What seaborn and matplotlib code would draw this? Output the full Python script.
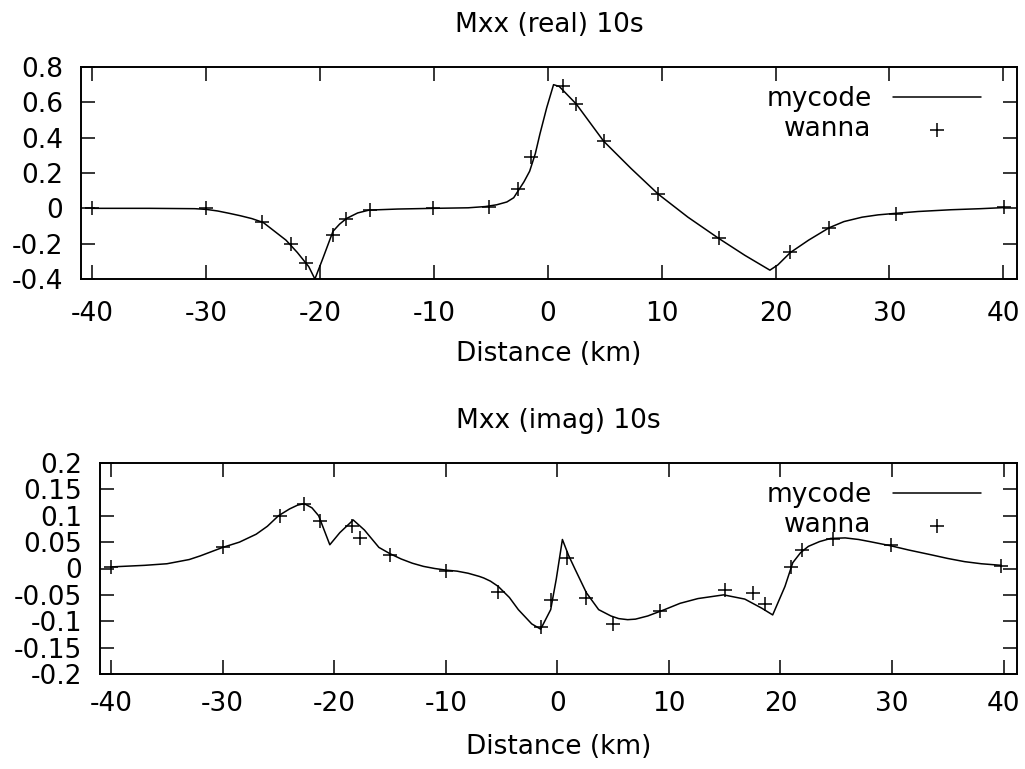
import matplotlib
matplotlib.use("Agg")
import matplotlib.pyplot as plt
import matplotlib.ticker as mticker
import seaborn as sns

# mycode curve, real part
real_x = [-40, -35, -31, -30, -29, -28, -27, -26, -25, -24, -23, -22, -21, -20.46,
          -19.74, -18.87, -18.3, -17.7, -16.7, -15.7, -13.2, -10, -7, -5.5, -4.5,
          -3.6, -3.0, -2.6, -2.1, -1.6, -1.1, -0.7, -0.1, 0.5, 1.0, 2.5, 4.9, 7.3,
          9.7, 12.3, 15, 17.3, 19.5, 20.2, 21.3, 22.9, 24.7, 26, 27.6, 29, 30.6,
          32.5, 35.4, 38, 40]
real_y = [0.0, 0.0, -0.002, -0.006, -0.015, -0.028, -0.042, -0.058, -0.08, -0.13,
          -0.18, -0.25, -0.33, -0.40, -0.28, -0.13, -0.09, -0.058, -0.026, -0.01,
          -0.004, 0.0, 0.003, 0.01, 0.02, 0.036, 0.06, 0.10, 0.15, 0.21, 0.31,
          0.42, 0.57, 0.70, 0.69, 0.59, 0.38, 0.226, 0.08, -0.05, -0.17, -0.266,
          -0.35, -0.32, -0.25, -0.18, -0.11, -0.075, -0.05, -0.037, -0.028, -0.018,
          -0.008, -0.002, 0.004]

# wanna points, real part
real_pts_x = [-40, -30, -25.1, -22.6, -21.2, -18.9, -17.7, -15.6, -10.1, -5.2, -2.6,
              -1.5, 1.3, 2.5, 4.9, 9.7, 15.0, 21.3, 24.7, 30.6, 40.1]
real_pts_y = [0.0, 0.0, -0.08, -0.20, -0.31, -0.15, -0.06, -0.01, 0.0, 0.01, 0.11,
              0.29, 0.69, 0.59, 0.38, 0.08, -0.17, -0.25, -0.11, -0.03, 0.005]

# mycode curve, imaginary part
imag_x = [-40, -37, -35, -33, -32, -31, -30, -28.5, -27, -26, -25, -24, -23.3, -22.7,
          -22, -21.4, -20.4, -19.5, -18.3, -17.3, -16, -15, -14, -13, -12, -11, -10,
          -9, -8, -7, -6.6, -6, -5.3, -4.3, -3.5, -2.3, -1.5, -0.6, -0.1, 0.45, 1.0,
          1.6, 2.6, 3.7, 4.8, 5.5, 6.3, 7, 8.1, 9.6, 11, 12.6, 14.9, 16.8, 18.3,
          19.3, 20.4, 21.1, 21.8, 22.5, 23.5, 24.5, 25.8, 27, 28, 29.9, 31.5, 33.5,
          35, 36.5, 38, 39.8]
imag_y = [0.003, 0.006, 0.009, 0.017, 0.024, 0.032, 0.04, 0.05, 0.065, 0.08, 0.10,
          0.113, 0.12, 0.123, 0.115, 0.10, 0.045, 0.068, 0.092, 0.073, 0.04, 0.028,
          0.018, 0.01, 0.004, 0.0, -0.003, -0.005, -0.009, -0.015, -0.018, -0.024,
          -0.034, -0.055, -0.078, -0.105, -0.115, -0.078, -0.02, 0.055, 0.025,
          -0.002, -0.046, -0.078, -0.09, -0.095, -0.097, -0.096, -0.09, -0.078,
          -0.066, -0.057, -0.05, -0.058, -0.075, -0.088, -0.034, 0.011, 0.03, 0.042,
          0.051, 0.057, 0.058, 0.055, 0.051, 0.043, 0.035, 0.026, 0.019, 0.013,
          0.009, 0.006]

# wanna points, imaginary part
imag_pts_x = [-40, -30, -24.9, -22.7, -21.3, -18.4, -17.7, -15.0, -10, -5.3, -1.5,
              -0.6, 0.9, 2.6, 5.0, 9.2, 15.0, 17.5, 18.6, 20.9, 21.9, 24.7, 29.9, 39.8]
imag_pts_y = [0.002, 0.04, 0.10, 0.123, 0.09, 0.08, 0.057, 0.025, -0.005, -0.045,
              -0.11, -0.06, 0.02, -0.055, -0.105, -0.08, -0.04, -0.047, -0.067,
              0.002, 0.036, 0.055, 0.044, 0.004]

x_ticks = [-40, -30, -20, -10, 0, 10, 20, 30, 40]

sns.set_style("ticks")
plt.rcParams['font.family'] = ['DejaVu Sans']
plt.rcParams['axes.unicode_minus'] = False
for key in ['text.color', 'axes.labelcolor', 'xtick.color', 'ytick.color',
            'axes.edgecolor']:
    plt.rcParams[key] = 'black'
FS = 19

fig = plt.figure(figsize=(10.25, 7.69), dpi=100)
W, H = 1025, 769
ax1 = fig.add_axes([81 / W, 1 - 279 / H, 936 / W, 212 / H])
ax2 = fig.add_axes([100 / W, 1 - 674 / H, 917 / W, 211 / H])

panels = [
    (ax1, real_x, real_y, real_pts_x, real_pts_y, "Mxx (real) 10s",
     (-0.4, 0.8), [-0.4, -0.2, 0, 0.2, 0.4, 0.6, 0.8], 16, 10, 86),
    (ax2, imag_x, imag_y, imag_pts_x, imag_pts_y, "Mxx (imag) 10s",
     (-0.2, 0.2), [-0.2, -0.15, -0.1, -0.05, 0, 0.05, 0.1, 0.15, 0.2], 12.5, 12, 482),
]

for ax, cx, cy, px, py, title, ylim, yticks, xpad, lpad, leg_top in panels:
    sns.lineplot(x=cx, y=cy, ax=ax, color='black', lw=1.1, sort=False,
                 estimator=None, label='mycode')
    sns.scatterplot(x=px, y=py, ax=ax, marker='+', s=95, color='black',
                    linewidth=1.1, label='wanna')
    ax.set_xlim(-41, 41.2)
    ax.set_ylim(*ylim)
    ax.set_xticks(x_ticks)
    ax.set_yticks(yticks)
    ax.yaxis.set_major_formatter(mticker.FuncFormatter(lambda v, p: '%g' % round(v, 3)))
    ax.xaxis.set_major_formatter(mticker.FuncFormatter(lambda v, p: '%g' % v))
    ax.tick_params(axis='both', which='major', direction='in', length=10, width=1.1,
                   top=True, right=True, labelsize=FS, color='black',
                   labelcolor='black')
    ax.tick_params(axis='x', pad=xpad)
    ax.tick_params(axis='y', pad=13)
    for s in ax.spines.values():
        s.set_linewidth(1.4)
        s.set_color('black')
        s.set_visible(True)
    ax.set_title(title, fontsize=FS, pad=25, color='black')
    ax.set_xlabel("Distance (km)", fontsize=FS, labelpad=lpad, color='black')
    ax.set_ylabel("")
    leg = ax.legend(loc='upper right', bbox_to_anchor=(981 / W, 1 - leg_top / H),
                    bbox_transform=fig.transFigure, frameon=False, markerfirst=False,
                    fontsize=FS, handlelength=3.34, handletextpad=0.8,
                    labelspacing=0.17, borderpad=0, borderaxespad=0, scatterpoints=1)
    for t in leg.get_texts():
        t.set_color('black')

fig.savefig("out.png", dpi=100)
